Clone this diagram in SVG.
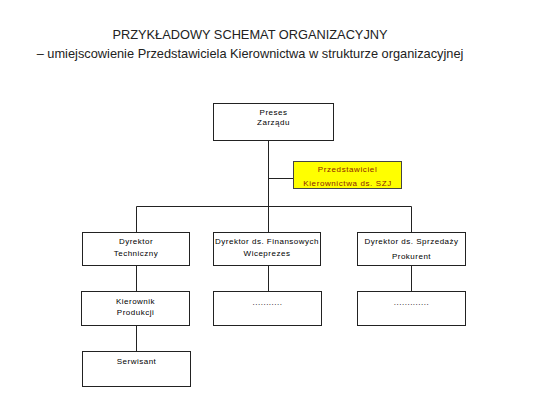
<svg xmlns="http://www.w3.org/2000/svg" width="545" height="407" viewBox="0 0 545 407">
<style>
.title{font-family:"Liberation Sans",Arial,sans-serif;font-size:12.8px;fill:#222;text-anchor:middle}
.box{fill:#fff;stroke:#222;stroke-width:1}
.yel{fill:#ffff00;stroke:#444;stroke-width:1}
.t{font-family:"Liberation Sans",Arial,sans-serif;font-size:8px;letter-spacing:0.5px;fill:#000;text-anchor:middle}
.ty{font-family:"Liberation Sans",Arial,sans-serif;font-size:8px;letter-spacing:0.6px;fill:#8b2500;text-anchor:middle}
.c{stroke:#222;stroke-width:1;fill:none}
</style>
<rect width="545" height="407" fill="#fff"/>
<text class="title" x="250" y="39">PRZYKŁADOWY SCHEMAT ORGANIZACYJNY</text>
<text class="title" x="250" y="58">– umiejscowienie Przedstawiciela Kierownictwa w strukturze organizacyjnej</text>
<g id="connectors">
<path class="c" d="M268.5 140V206.5M268.5 178.5H293M136.5 206.5H411.5M136.5 206.5V232M268.5 206.5V232M411.5 206.5V232M136.5 265V291M268.5 265V291M411.5 265V291M136.5 325V351"/>
</g>
<g id="preses"><rect class="box" x="213.5" y="103.5" width="120" height="37"/><text class="t" x="273.5" y="115">Preses</text><text class="t" x="273.5" y="125">Zarządu</text></g>
<g id="przedstawiciel"><rect class="yel" x="293.5" y="161.5" width="108" height="27"/><text class="ty" x="347.5" y="172">Przedstawiciel</text><text class="ty" x="347.5" y="186">Kierownictwa ds. SZJ</text></g>
<g id="dyr-tech"><rect class="box" x="82.5" y="232.5" width="107" height="33"/><text class="t" x="136" y="244">Dyrektor</text><text class="t" x="136" y="256">Techniczny</text></g>
<g id="dyr-fin"><rect class="box" x="213.5" y="232.5" width="107" height="33"/><text class="t" x="267" y="244">Dyrektor ds. Finansowych</text><text class="t" x="267" y="256">Wiceprezes</text></g>
<g id="dyr-sprz"><rect class="box" x="357.5" y="232.5" width="108" height="33"/><text class="t" x="411.5" y="244">Dyrektor ds. Sprzedaży</text><text class="t" x="411.5" y="259">Prokurent</text></g>
<g id="kierownik"><rect class="box" x="81.5" y="291.5" width="108" height="34"/><text class="t" x="135.5" y="304">Kierownik</text><text class="t" x="135.5" y="315">Produkcji</text></g>
<g id="fin-sub"><rect class="box" x="213.5" y="291.5" width="108" height="34"/><text class="t" x="267.5" y="305">...........</text></g>
<g id="sprz-sub"><rect class="box" x="357.5" y="291.5" width="108" height="34"/><text class="t" x="411.5" y="305">.............</text></g>
<g id="serwisant"><rect class="box" x="82.5" y="351.5" width="108" height="35"/><text class="t" x="136.5" y="364">Serwisant</text></g>
</svg>
